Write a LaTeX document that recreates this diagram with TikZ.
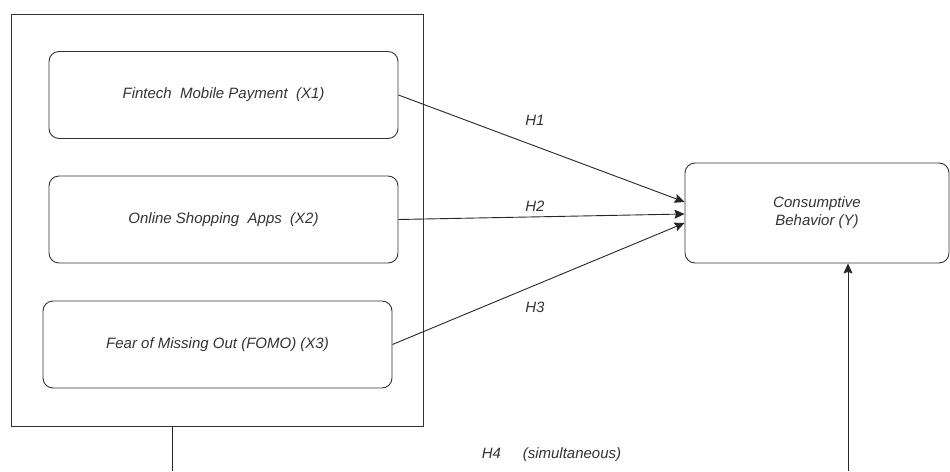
\documentclass[tikz,border=0pt]{standalone}
\usepackage{fontspec}
\setmainfont{Liberation Sans}
\usetikzlibrary{arrows.meta}
\definecolor{ink}{RGB}{51,51,51}
\tikzset{
    varbox/.style={draw=ink, line width=0.9pt, rounded corners=10pt, minimum width=349pt, minimum height=87pt,
        font=\fontsize{15}{18}\selectfont\itshape, text=ink, inner sep=0pt},
    hlabel/.style={font=\fontsize{15}{18}\selectfont\itshape, text=ink},
    path/.style={draw=black!85, line width=0.9pt},
    tip/.style={-{Stealth[length=10pt,width=9pt,inset=1.5pt]}},
}

\begin{document}
\begin{tikzpicture}[x=1pt, y=-1pt]
\useasboundingbox (0,0) rectangle (950,471);

% independent variables, grouped in one frame
\node[draw=ink, line width=0.9pt, minimum width=412pt, minimum height=412pt, inner sep=0pt] (group) at (217,220) {};
\node[varbox] (x1) at (223.5,95) {Fintech\ \ Mobile Payment\ \ (X1)};
\node[varbox] (x2) at (223.5,219.5) {Online Shopping\ \ Apps\ \ (X2)};
\node[varbox] (x3) at (217.5,344.5) {Fear of Missing Out (FOMO) (X3)};

% dependent variable
\node[varbox, minimum width=264pt, minimum height=100pt, align=center] (y) at (817,213) {Consumptive\\Behavior (Y)};

% partial effects
\draw[path, tip] (x1.east) -- ([yshift=11pt]y.west);
\draw[path, tip] (x2.east) -- ([yshift=-1pt]y.west);
\draw[path, tip] (x3.east) -- ([yshift=-10pt]y.west);
\node[hlabel] (h1) at (535,120) {H1};
\node[hlabel] (h2) at (535,206) {H2};
\node[hlabel] (h3) at (535,307) {H3};

% simultaneous effect
\coordinate (bl) at (172,471);
\coordinate (br) at (848,471);
\draw[path] (group.south -| bl) -- (bl);
\draw[path, tip] (br) -- (y.south -| br);
\node[hlabel] (h4) at (551.5,455) {H4\hspace{1.45em}(simultaneous)};
\end{tikzpicture}
\end{document}
